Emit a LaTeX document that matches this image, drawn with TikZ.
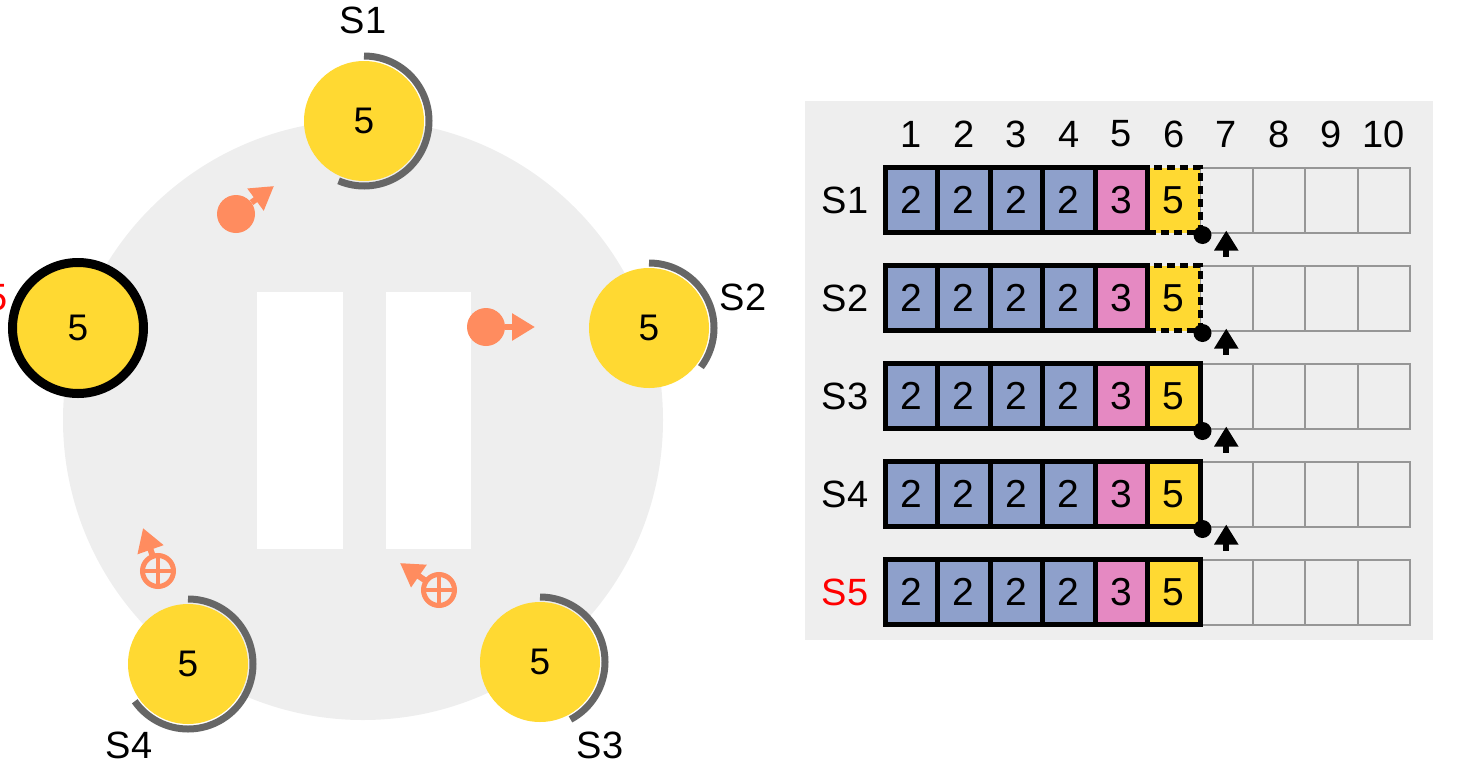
\documentclass[tikz,border=0pt]{standalone}
\usepackage{fontspec}
\setmainfont{Liberation Sans}
\usetikzlibrary{arrows.meta}
\definecolor{bgc}{RGB}{238,238,238}
\definecolor{yel}{RGB}{255,217,50}
\definecolor{blu}{RGB}{142,160,203}
\definecolor{pnk}{RGB}{229,137,194}
\definecolor{arcg}{RGB}{102,102,102}
\definecolor{org}{RGB}{255,140,95}
\definecolor{emptyg}{RGB}{150,150,150}
\begin{document}
\begin{tikzpicture}[x=1pt,y=-1pt,
  lab/.style={font=\fontsize{38}{40}\selectfont, inner sep=0pt},
  srv/.style={circle, fill=yel, minimum size=120pt, inner sep=0pt, font=\fontsize{37}{40}\selectfont},
  logarc/.style={draw=arcg, line width=7pt},
  cellbase/.style={rectangle, minimum width=52.5pt, minimum height=65pt, inner sep=0pt, font=\fontsize{39}{40}\selectfont},
  emptycell/.style={cellbase, draw=emptyg, line width=2pt},
  fullcell/.style={cellbase, draw=black, line width=5pt},
  dashcell/.style={cellbase, draw=black, line width=5pt, dash pattern=on 8pt off 5pt},
  osym/.style={circle, fill=org, minimum size=38pt, inner sep=0pt},
  oplus/.style={circle, draw=org, line width=5pt, minimum size=31pt, inner sep=0pt, outer sep=0pt},
  oarrow/.style={draw=org, line width=6pt, -{Triangle[length=23pt,width=26pt]}},
  uparrow/.style={draw=black, line width=6pt, -{Triangle[length=20pt,width=23pt]}}]
\useasboundingbox (0,0) rectangle (1461,763);
\clip (0,0) rectangle (1461,763);

% ---------- left: ring of servers ----------
\fill[bgc] (363,420) circle[radius=300];
\fill[white] (257,292) rectangle (343,549);
\fill[white] (386,292) rectangle (471,549);

\node[srv] (S1) at (364,121) {5};
\node[srv] (S2) at (649,328) {5};
\node[srv] (S3) at (540,662) {5};
\node[srv] (S4) at (188,664) {5};
\node[srv, draw=black, line width=9pt, minimum size=131pt] (S5) at (78,328) {5};

\draw[logarc] (S1.center) ++(-90:65) arc[start angle=-90, end angle=113, radius=65];
\draw[logarc] (S2.center) ++(-90:65) arc[start angle=-90, end angle=37, radius=65];
\draw[logarc] (S3.center) ++(-90:65) arc[start angle=-90, end angle=62, radius=65];
\draw[logarc] (S4.center) ++(-90:65) arc[start angle=-90, end angle=145, radius=65];

\node[lab] (l1) at (363,20) {S1};
\node[lab] (l2) at (743,297) {S2};
\node[lab] (l3) at (600,745) {S3};
\node[lab] (l4) at (129,745) {S4};
\node[lab, text=red] (l5) at (-16,297) {S5};

% orange messages
\node[osym] (o1) at (236,214) {};
\coordinate (t1) at (274,186);
\draw[oarrow] (o1) -- (t1);
\node[osym] (o2) at (486,327) {};
\coordinate (t2) at (535,327);
\draw[oarrow] (o2) -- (t2);
\node[oplus] (o3) at (158,571) {};
\coordinate (t3) at (143,528);
\draw[oarrow] (o3) -- (t3);
\draw[org, line width=4pt] (o3.north) -- (o3.south) (o3.west) -- (o3.east);
\node[oplus] (o4) at (439,590) {};
\coordinate (t4) at (400,563);
\draw[oarrow] (o4) -- (t4);
\draw[org, line width=4pt] (o4.north) -- (o4.south) (o4.west) -- (o4.east);

% ---------- right: logs ----------
\fill[bgc] (805,101) rectangle (1433,640);
\foreach \i in {1,...,10} {
  \pgfmathsetmacro\xc{885+52.5*(\i-0.5)}
  \node[lab] (col\i) at (\xc,134) {\i};
}
\foreach \r in {1,...,5} {
  \pgfmathsetmacro\yc{200+98*(\r-1)}
  \ifnum\r=5
    \node[lab, text=red] (row\r) at (845,\yc) {S\r};
  \else
    \node[lab] (row\r) at (845,\yc) {S\r};
  \fi
  \foreach \i in {7,...,10} {
    \pgfmathsetmacro\xc{885+52.5*(\i-0.5)}
    \node[emptycell] (c\r-\i) at (\xc,\yc) {};
  }
  \pgfmathsetmacro\xc{885+52.5*5.5}
  \ifnum\r<3
    \node[dashcell, fill=yel] (c\r-6) at (\xc,\yc) {5};
  \else
    \node[fullcell, fill=yel] (c\r-6) at (\xc,\yc) {5};
  \fi
  \foreach \i in {1,...,4} {
    \pgfmathsetmacro\xc{885+52.5*(\i-0.5)}
    \node[fullcell, fill=blu] (c\r-\i) at (\xc,\yc) {2};
  }
  \pgfmathsetmacro\xc{885+52.5*4.5}
  \node[fullcell, fill=pnk] (c\r-5) at (\xc,\yc) {3};
  \ifnum\r<5
    \fill (c\r-6.south east) circle[radius=9];
    \draw[uparrow] ([yshift=-23pt]c\r-7.south) -- ([yshift=3pt]c\r-7.south);
  \fi
}
\end{tikzpicture}
\end{document}
